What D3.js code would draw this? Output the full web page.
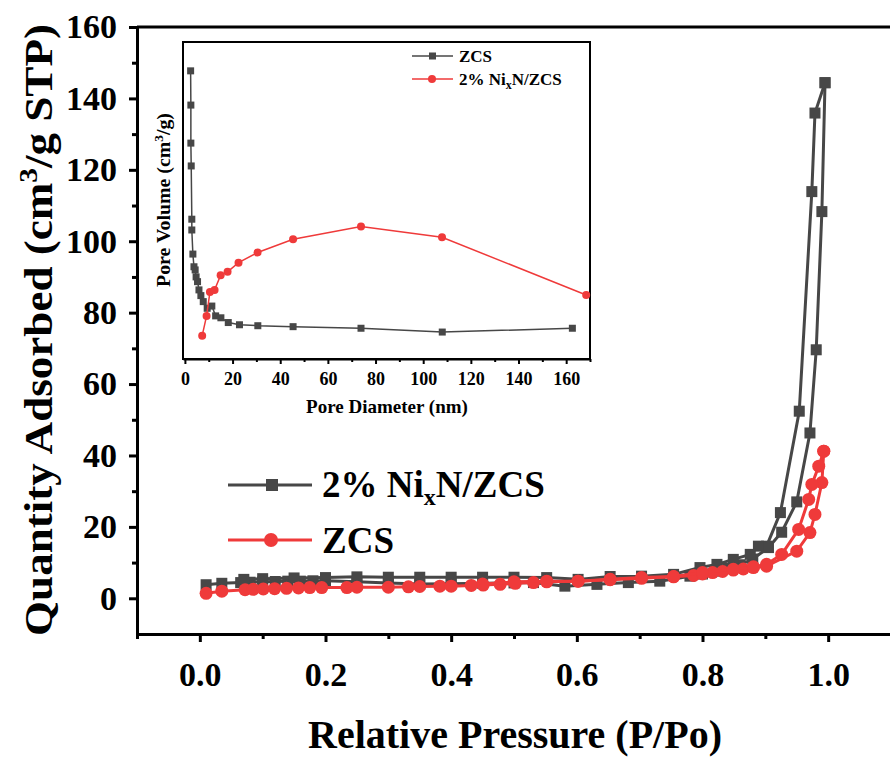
<!DOCTYPE html>
<html>
<head>
<meta charset="utf-8">
<script src="https://cdn.jsdelivr.net/npm/d3@7"></script>
<style>
    html, body { margin: 0; padding: 0; background: #fff; }
    svg text { font-family: "Liberation Serif", "Times New Roman", serif; font-weight: bold; fill: #000; }
</style>
</head>
<body>
<div id="chart"></div>
<script>
// main isotherm, 2% NixN/ZCS (grey squares)
var niAdsP = [0.01, 0.035, 0.065, 0.08, 0.1, 0.12, 0.14, 0.16, 0.18, 0.2, 0.25, 0.3, 0.35, 0.4, 0.45, 0.5, 0.531, 0.581, 0.632, 0.682, 0.732, 0.78, 0.8, 0.82, 0.84, 0.86, 0.88, 0.905, 0.926, 0.95, 0.971, 0.981, 0.99, 0.995];
var niAdsV = [3.8, 4.2, 4.4, 4.5, 4.6, 4.7, 4.8, 4.8, 4.9, 4.9, 4.6, 4.3, 4.0, 4.1, 4.2, 4.3, 4.4, 3.4, 3.9, 4.4, 4.8, 6.2, 6.8, 7.6, 8.4, 9.4, 11.0, 14.2, 18.5, 27.0, 46.3, 69.6, 108.3, 144.4];
var niDesP = [0.995, 0.979, 0.974, 0.954, 0.924, 0.902, 0.889, 0.876, 0.849, 0.823, 0.796, 0.754, 0.703, 0.653, 0.602, 0.552, 0.5, 0.45, 0.4, 0.35, 0.3, 0.25, 0.2, 0.15, 0.1, 0.07];
var niDesV = [144.4, 135.9, 113.9, 52.4, 24.0, 14.6, 14.6, 12.3, 10.9, 9.5, 8.6, 6.7, 6.2, 6.1, 5.3, 5.8, 5.9, 5.9, 5.9, 5.9, 5.9, 6.0, 5.8, 5.7, 5.5, 5.3];

// main isotherm, ZCS (red circles)
var zcsAdsP = [0.01, 0.035, 0.072, 0.085, 0.101, 0.119, 0.138, 0.157, 0.175, 0.194, 0.234, 0.25, 0.3, 0.332, 0.35, 0.382, 0.4, 0.432, 0.451, 0.478, 0.502, 0.531, 0.552, 0.602, 0.653, 0.703, 0.754, 0.786, 0.8, 0.816, 0.832, 0.849, 0.865, 0.881, 0.902, 0.95, 0.971, 0.979, 0.99, 0.993];
var zcsAdsV = [1.4, 2.0, 2.4, 2.5, 2.6, 2.7, 2.8, 2.9, 3.0, 3.0, 3.0, 3.1, 3.1, 3.2, 3.3, 3.4, 3.4, 3.6, 3.7, 3.9, 4.2, 4.4, 4.6, 4.8, 5.2, 5.6, 6.0, 6.4, 6.8, 7.2, 7.5, 7.9, 8.2, 8.6, 9.0, 13.2, 18.4, 23.5, 32.4, 41.2];
var zcsDesP = [0.993, 0.985, 0.974, 0.969, 0.953, 0.926, 0.902, 0.881, 0.849, 0.8, 0.754, 0.703, 0.653, 0.602, 0.552, 0.5, 0.45];
var zcsDesV = [41.2, 37.0, 31.9, 27.7, 19.3, 12.3, 9.5, 8.8, 8.1, 7.2, 6.1, 5.8, 5.3, 4.8, 4.8, 4.6, 4.0];

// inset pore size distribution (relative pore volume, no scale shown)
var insetZcsD = [2.4, 2.5, 2.5, 2.65, 2.9, 2.9, 3.35, 3.8, 4.3, 4.7, 5.3, 5.9, 6.7, 7.7, 9.35, 11.3, 12.9, 15.1, 18.2, 22.9, 30.6, 45.4, 73.9, 108, 162.6];
var insetZcsV = [90.9, 80.1, 68.1, 60.9, 44.1, 40.7, 33.1, 29.1, 28.1, 25.9, 24.4, 21.8, 20.0, 18.1, 16.0, 16.7, 13.6, 13.0, 11.5, 10.8, 10.5, 10.2, 9.7, 8.5, 9.7];
var insetNiD = [7.25, 9.1, 10.5, 12.45, 15.0, 17.9, 22.5, 30.5, 45.4, 73.9, 107.9, 168.4];
var insetNiV = [7.35, 13.6, 21.1, 21.8, 26.4, 27.5, 30.4, 33.6, 37.8, 41.8, 38.4, 20.2];

var xTicks = [0, 0.2, 0.4, 0.6, 0.8, 1.0];
var xMinorTicks = [-0.1, 0.1, 0.3, 0.5, 0.7, 0.9];
var yTicks = [0, 20, 40, 60, 80, 100, 120, 140, 160];
var yMinorTicks = [10, 30, 50, 70, 90, 110, 130, 150];
var insetXTicks = [0, 20, 40, 60, 80, 100, 120, 140, 160];
var insetXMinorTicks = [10, 30, 50, 70, 90, 110, 130, 150, 170];

(function () { // self-invoking function
    var W = 890, H = 758;
    var GREY = "#474747", RED = "#ef3a3a";

    var svg = d3.select("#chart").append("svg")
        .attr("width", W)
        .attr("height", H);

    var zip = function (a, b) {
        return a.map(function (v, i) { return [v, b[i]]; });
    };

    //region main plot
    var x = d3.scaleLinear().domain([-0.1, 1.1]).range([137, 891]);
    var y = d3.scaleLinear().domain([-10, 160]).range([634, 27]);

    var _styleAxis = function (g, w) {
        g.select(".domain").attr("stroke", "#000").attr("stroke-width", w);
        g.selectAll(".tick line").attr("stroke", "#000").attr("stroke-width", w);
    };

    svg.append("line")   // top frame
        .attr("x1", 137).attr("x2", 891).attr("y1", 27).attr("y2", 27)
        .attr("stroke", "#000").attr("stroke-width", 3);

    var gx = svg.append("g").attr("transform", "translate(0,634)")
        .call(d3.axisBottom(x).tickValues(xTicks).tickFormat(d3.format(".1f"))
            .tickSizeInner(8).tickSizeOuter(0).tickPadding(20));
    gx.selectAll("text").attr("font-size", 34);
    _styleAxis(gx, 3);
    var gxm = svg.append("g").attr("transform", "translate(0,634)")
        .call(d3.axisBottom(x).tickValues(xMinorTicks).tickFormat("").tickSizeInner(5).tickSizeOuter(0));
    gxm.select(".domain").remove();
    _styleAxis(gxm, 3);

    var gy = svg.append("g").attr("transform", "translate(137,0)")
        .call(d3.axisLeft(y).tickValues(yTicks).tickSizeInner(8).tickSizeOuter(0).tickPadding(12));
    gy.selectAll("text").attr("font-size", 34);
    _styleAxis(gy, 3);
    var gym = svg.append("g").attr("transform", "translate(137,0)")
        .call(d3.axisLeft(y).tickValues(yMinorTicks).tickFormat("").tickSizeInner(5).tickSizeOuter(0));
    gym.select(".domain").remove();
    _styleAxis(gym, 3);

    svg.append("text")
        .attr("x", 515).attr("y", 748)
        .attr("text-anchor", "middle")
        .attr("font-size", 39)
        .attr("textLength", 414)
        .attr("lengthAdjust", "spacingAndGlyphs")
        .text("Relative Pressure (P/Po)");

    var yt = svg.append("text")
        .attr("transform", "translate(52,330) rotate(-90)")
        .attr("text-anchor", "middle")
        .attr("font-size", 40)
        .attr("textLength", 612)
        .attr("lengthAdjust", "spacingAndGlyphs");
    yt.append("tspan").text("Quantity Adsorbed (cm");
    yt.append("tspan").attr("font-size", 26).attr("dy", -15).text("3");
    yt.append("tspan").attr("dy", 15).text("/g STP)");

    var line = d3.line().x(function (d) { return x(d[0]); }).y(function (d) { return y(d[1]); });

    var _drawSeries = function (pts, color, shape) {
        var g = svg.append("g");
        g.append("path").datum(pts)
            .attr("d", line)
            .attr("fill", "none")
            .attr("stroke", color)
            .attr("stroke-width", 3);
        if (shape === "square") {
            g.selectAll("rect").data(pts).enter().append("rect")
                .attr("x", function (d) { return x(d[0]) - 5.5; })
                .attr("y", function (d) { return y(d[1]) - 5.5; })
                .attr("width", 11).attr("height", 11)
                .attr("fill", color);
        } else {
            g.selectAll("circle").data(pts).enter().append("circle")
                .attr("cx", function (d) { return x(d[0]); })
                .attr("cy", function (d) { return y(d[1]); })
                .attr("r", 6.5)
                .attr("fill", color);
        }
    };

    _drawSeries(zip(niAdsP, niAdsV), GREY, "square");
    _drawSeries(zip(niDesP, niDesV), GREY, "square");
    _drawSeries(zip(zcsAdsP, zcsAdsV), RED, "circle");
    _drawSeries(zip(zcsDesP, zcsDesV), RED, "circle");

    // main legend
    var leg = svg.append("g");
    [[485, GREY, "square"], [540, RED, "circle"]].forEach(function (r) {
        leg.append("line").attr("x1", 228).attr("x2", 312).attr("y1", r[0]).attr("y2", r[0])
            .attr("stroke", r[1]).attr("stroke-width", 3);
        if (r[2] === "square") {
            leg.append("rect").attr("x", 266).attr("y", r[0] - 6).attr("width", 12).attr("height", 12).attr("fill", r[1]);
        } else {
            leg.append("circle").attr("cx", 271).attr("cy", r[0]).attr("r", 7).attr("fill", r[1]);
        }
    });
    var l1 = leg.append("text").attr("x", 322).attr("y", 497).attr("font-size", 37);
    l1.append("tspan").text("2% Ni");
    l1.append("tspan").attr("font-size", 24).attr("dy", 8).text("x");
    l1.append("tspan").attr("dy", -8).text("N/ZCS");
    leg.append("text").attr("x", 322).attr("y", 553).attr("font-size", 37).text("ZCS");
    //endregion

    //region inset
    var ix = d3.scaleLinear().domain([-0.8, 170]).range([183, 590]);
    var iy = d3.scaleLinear().domain([0, 100]).range([359, 42]);

    svg.append("rect")
        .attr("x", 183).attr("y", 42).attr("width", 407).attr("height", 317)
        .attr("fill", "none").attr("stroke", "#000").attr("stroke-width", 2);

    var igx = svg.append("g").attr("transform", "translate(0,359)")
        .call(d3.axisBottom(ix).tickValues(insetXTicks).tickSizeInner(5).tickSizeOuter(0).tickPadding(8));
    igx.selectAll("text").attr("font-size", 18);
    _styleAxis(igx, 2);
    var igxm = svg.append("g").attr("transform", "translate(0,359)")
        .call(d3.axisBottom(ix).tickValues(insetXMinorTicks).tickFormat("").tickSizeInner(3).tickSizeOuter(0));
    igxm.select(".domain").remove();
    _styleAxis(igxm, 2);

    svg.append("text")
        .attr("x", 387).attr("y", 413)
        .attr("text-anchor", "middle")
        .attr("font-size", 19)
        .text("Pore Diameter (nm)");

    var iyt = svg.append("text")
        .attr("transform", "translate(170,200) rotate(-90)")
        .attr("text-anchor", "middle")
        .attr("font-size", 18)
        .attr("textLength", 174)
        .attr("lengthAdjust", "spacingAndGlyphs");
    iyt.append("tspan").text("Pore Volume (cm");
    iyt.append("tspan").attr("font-size", 12).attr("dy", -7).text("3");
    iyt.append("tspan").attr("dy", 7).text("/g)");

    var iline = d3.line().x(function (d) { return ix(d[0]); }).y(function (d) { return iy(d[1]); });

    var zcsPts = zip(insetZcsD, insetZcsV);
    svg.append("path").datum(zcsPts).attr("d", iline)
        .attr("fill", "none").attr("stroke", GREY).attr("stroke-width", 1.5);
    svg.append("g").selectAll("rect").data(zcsPts).enter().append("rect")
        .attr("x", function (d) { return ix(d[0]) - 3.5; })
        .attr("y", function (d) { return iy(d[1]) - 3.5; })
        .attr("width", 7).attr("height", 7)
        .attr("fill", GREY);

    var niPts = zip(insetNiD, insetNiV);
    svg.append("path").datum(niPts).attr("d", iline)
        .attr("fill", "none").attr("stroke", RED).attr("stroke-width", 1.5);
    svg.append("g").selectAll("circle").data(niPts).enter().append("circle")
        .attr("cx", function (d) { return ix(d[0]); })
        .attr("cy", function (d) { return iy(d[1]); })
        .attr("r", 4)
        .attr("fill", RED);

    // inset legend
    [[56, GREY, "square"], [79, RED, "circle"]].forEach(function (r) {
        svg.append("line").attr("x1", 412).attr("x2", 453).attr("y1", r[0]).attr("y2", r[0])
            .attr("stroke", r[1]).attr("stroke-width", 1.5);
        if (r[2] === "square") {
            svg.append("rect").attr("x", 429).attr("y", r[0] - 3.5).attr("width", 7).attr("height", 7).attr("fill", r[1]);
        } else {
            svg.append("circle").attr("cx", 432).attr("cy", r[0]).attr("r", 4).attr("fill", r[1]);
        }
    });
    svg.append("text").attr("x", 459).attr("y", 62).attr("font-size", 17).text("ZCS");
    var il2 = svg.append("text").attr("x", 459).attr("y", 85).attr("font-size", 17);
    il2.append("tspan").text("2% Ni");
    il2.append("tspan").attr("font-size", 12).attr("dy", 4).text("x");
    il2.append("tspan").attr("dy", -4).text("N/ZCS");
    //endregion
})();
</script>
</body>
</html>
